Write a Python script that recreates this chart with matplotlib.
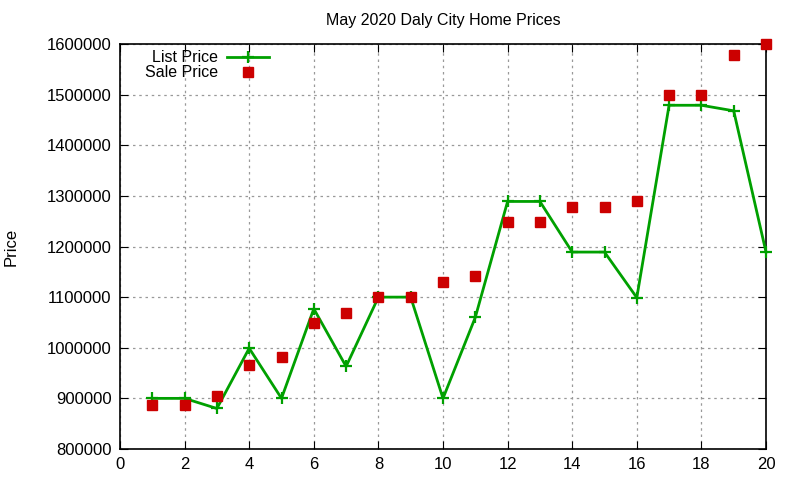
import matplotlib
matplotlib.use("Agg")
import matplotlib.pyplot as plt
import numpy as np

days = np.arange(1, 21)
list_price = [900000, 900000, 880000, 999000, 900000, 1077000, 963000, 1100000, 1100000, 900000,
              1060000, 1289000, 1289000, 1189000, 1189000, 1099000, 1479000, 1479000, 1468000, 1189000]
sale_price = [887000, 887000, 905000, 965000, 981000, 1049000, 1068000, 1100000, 1100000, 1129000,
              1141000, 1249000, 1249000, 1279000, 1279000, 1289000, 1500000, 1500000, 1578000, 1600000]

plt.rcParams['font.family'] = ['Liberation Sans', 'DejaVu Sans']

fig = plt.figure(figsize=(8, 4.8), dpi=100)
ax = fig.add_axes([0.15, 0.0646, 0.8075, 0.8437])

ax.plot(days, list_price, color="#00a000", linewidth=2, marker="+", markersize=9,
        markeredgewidth=1.6, label="List Price", clip_on=False, zorder=3)
ax.plot(days, sale_price, linestyle="none", color="#cc0000", marker="s", markersize=6.5,
        label="Sale Price", clip_on=False, zorder=4)

ax.set_xlim(0, 20)
ax.set_ylim(800000, 1600000)
ax.set_xticks(np.arange(0, 21, 2))
ax.set_yticks(np.arange(800000, 1600001, 100000))
ax.set_yticklabels([str(v) for v in range(800000, 1600001, 100000)])
ax.tick_params(direction="in", top=True, right=True, labelsize=12, length=6, pad=6)
ax.grid(True, linestyle=(0, (2, 3)), color="#999999", linewidth=0.9)
for s in ax.spines.values():
    s.set_linewidth(1.2)

ax.set_title("May 2020 Daly City Home Prices", fontsize=11.5, pad=14)
ax.set_ylabel("Price", fontsize=12, labelpad=20)

# gnuplot style key: text right aligned, sample after it
leg = ax.legend(loc="upper left", bbox_to_anchor=(0.0288, 1.0), markerfirst=False, frameon=False,
                fontsize=11.5, handlelength=2.63, handletextpad=0.56, labelspacing=0.0,
                borderaxespad=0.0)
for t in leg.get_texts():
    t.set_ha("right")
leg._legend_box.align = "right"

fig.savefig("out.png", dpi=100)
